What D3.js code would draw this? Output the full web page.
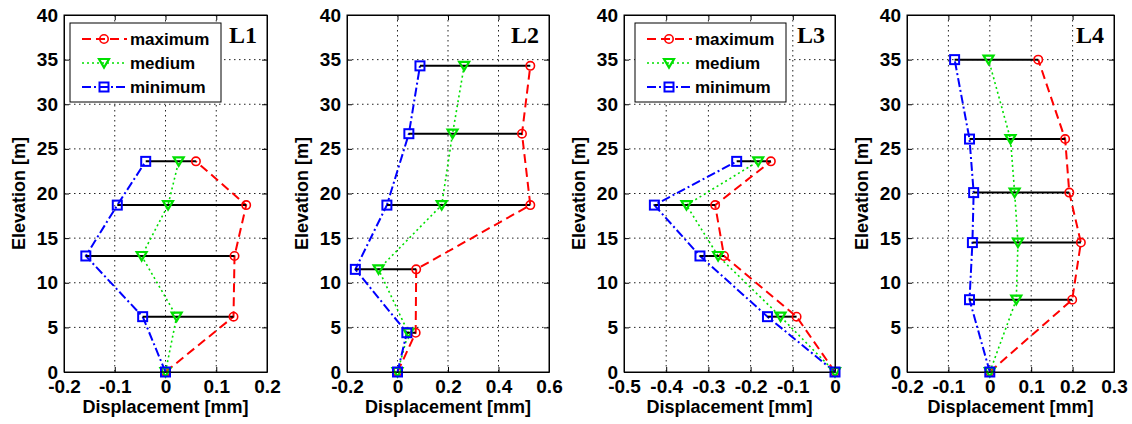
<!DOCTYPE html>
<html>
<head>
<meta charset="utf-8">
<script src="https://cdn.jsdelivr.net/npm/d3@7"></script>
<style>
  body { margin: 0; background: #fff; }
  text { font-family: "Liberation Sans", Arial, sans-serif; font-weight: bold; fill: #000; }
</style>
</head>
<body>
<div id="chart"></div>
<script>
// values (displacement in mm, elevation in m)
var l1Elev = [0, 6.2, 13.0, 18.7, 23.6];
var l1Max  = [0, 0.134, 0.136, 0.159, 0.060];
var l1Med  = [0, 0.022, -0.047, 0.005, 0.026];
var l1Min  = [0, -0.045, -0.157, -0.095, -0.039];

var l2Elev = [0, 4.4, 11.5, 18.7, 26.7, 34.3];
var l2Max  = [0, 0.072, 0.074, 0.526, 0.493, 0.526];
var l2Med  = [0, 0.043, -0.075, 0.175, 0.218, 0.264];
var l2Min  = [0, 0.037, -0.167, -0.042, 0.045, 0.089];

var l3Elev = [0, 6.2, 13.0, 18.7, 23.6];
var l3Max  = [0, -0.091, -0.263, -0.284, -0.152];
var l3Med  = [0, -0.129, -0.277, -0.352, -0.182];
var l3Min  = [0, -0.160, -0.320, -0.428, -0.233];

var l4Elev = [0, 8.1, 14.5, 20.1, 26.1, 35.0];
var l4Max  = [0, 0.199, 0.220, 0.192, 0.182, 0.117];
var l4Med  = [0, 0.064, 0.068, 0.060, 0.050, -0.003];
var l4Min  = [0, -0.049, -0.042, -0.039, -0.049, -0.085];

var yTicks = [0, 5, 10, 15, 20, 25, 30, 35, 40];
var l1XTicks = [-0.2, -0.1, 0, 0.1, 0.2];
var l2XTicks = [-0.2, 0, 0.2, 0.4, 0.6];
var l3XTicks = [-0.5, -0.4, -0.3, -0.2, -0.1, 0];
var l4XTicks = [-0.2, -0.1, 0, 0.1, 0.2, 0.3];

var seriesNames = ["maximum", "medium", "minimum"];

//basic formatting variables
var svgWidth = 1132;
var svgHeight = 424;
var plotTop = 15;
var plotBottom = 372;

var styles = [
  {color: "#ff0000", dash: "9,5", width: 2, marker: "circle"},
  {color: "#00e000", dash: "2,3", width: 1.6, marker: "triangle"},
  {color: "#0000ff", dash: "9,3,2,3", width: 2, marker: "square"}
];

var panels = [
  {name: "L1", elev: l1Elev, vals: [l1Max, l1Med, l1Min], ticks: l1XTicks, left: 64, right: 267, legend: 70},
  {name: "L2", elev: l2Elev, vals: [l2Max, l2Med, l2Min], ticks: l2XTicks, left: 347, right: 549, legend: null},
  {name: "L3", elev: l3Elev, vals: [l3Max, l3Med, l3Min], ticks: l3XTicks, left: 624, right: 835, legend: 635},
  {name: "L4", elev: l4Elev, vals: [l4Max, l4Med, l4Min], ticks: l4XTicks, left: 907, right: 1114, legend: null}
];

var svg = d3.select("#chart")
  .append("svg")
  .attr("width", svgWidth)
  .attr("height", svgHeight);

var fmt = d => String(+d.toFixed(1));

function drawMarker(g, type, x, y, color) {
  if (type === "circle") {
    g.append("circle").attr("cx", x).attr("cy", y).attr("r", 4.2)
      .attr("fill", "none").attr("stroke", color).attr("stroke-width", 1.6);
  } else if (type === "square") {
    g.append("rect").attr("x", x - 4.5).attr("y", y - 4.5).attr("width", 9).attr("height", 9)
      .attr("fill", "none").attr("stroke", color).attr("stroke-width", 2);
  } else {
    g.append("path").attr("d", `M${x - 5},${y - 4} L${x + 5},${y - 4} L${x},${y + 4.5} Z`)
      .attr("fill", "none").attr("stroke", color).attr("stroke-width", 2.2);
  }
}

panels.forEach(function(p) {
  var x = d3.scaleLinear()
    .domain([p.ticks[0], p.ticks[p.ticks.length - 1]])
    .range([p.left, p.right]);
  var y = d3.scaleLinear()
    .domain([0, 40])
    .range([plotBottom, plotTop]);

  var g = svg.append("g");

  // grid
  g.selectAll(".gx").data(p.ticks.slice(1, -1)).enter().append("line")
    .attr("x1", d => x(d)).attr("x2", d => x(d))
    .attr("y1", plotTop).attr("y2", plotBottom)
    .attr("stroke", "#222").attr("stroke-width", 1).attr("stroke-dasharray", "1.5,3.5");
  g.selectAll(".gy").data(yTicks.slice(1, -1)).enter().append("line")
    .attr("x1", p.left).attr("x2", p.right)
    .attr("y1", d => y(d)).attr("y2", d => y(d))
    .attr("stroke", "#222").attr("stroke-width", 1).attr("stroke-dasharray", "1.5,3.5");

  // axes with inward ticks
  g.append("g").attr("transform", `translate(0,${plotBottom})`)
    .call(d3.axisBottom(x).tickValues(p.ticks).tickFormat(fmt).tickSizeInner(-5).tickSizeOuter(0).tickPadding(8));
  g.append("g").attr("transform", `translate(${p.left},0)`)
    .call(d3.axisLeft(y).tickValues(yTicks).tickFormat(d3.format("d")).tickSizeInner(-5).tickSizeOuter(0).tickPadding(6));
  g.append("g").attr("transform", `translate(0,${plotTop})`)
    .call(d3.axisTop(x).tickValues(p.ticks).tickFormat("").tickSizeInner(-5).tickSizeOuter(0));
  g.append("g").attr("transform", `translate(${p.right},0)`)
    .call(d3.axisRight(y).tickValues(yTicks).tickFormat("").tickSizeInner(-5).tickSizeOuter(0));
  g.selectAll(".domain, .tick line").attr("stroke", "#000");
  g.selectAll(".tick text").attr("font-size", 19).attr("font-family", "Liberation Sans, Arial").attr("font-weight", "bold");

  // series lines
  p.vals.forEach(function(vals, i) {
    var s = styles[i];
    var line = d3.line().x((d, j) => x(d)).y((d, j) => y(p.elev[j]));
    g.append("path").datum(vals)
      .attr("d", line)
      .attr("fill", "none")
      .attr("stroke", s.color)
      .attr("stroke-width", s.width)
      .attr("stroke-dasharray", s.dash);
  });

  // black bars from minimum to maximum
  p.elev.forEach(function(e, j) {
    if (j === 0) return;
    g.append("line")
      .attr("x1", x(p.vals[2][j])).attr("x2", x(p.vals[0][j]))
      .attr("y1", y(e)).attr("y2", y(e))
      .attr("stroke", "#000").attr("stroke-width", 2);
  });

  // markers
  p.vals.forEach(function(vals, i) {
    vals.forEach(function(v, j) {
      drawMarker(g, styles[i].marker, x(v), y(p.elev[j]), styles[i].color);
    });
  });

  // frame
  g.append("rect").attr("x", p.left).attr("y", plotTop)
    .attr("width", p.right - p.left).attr("height", plotBottom - plotTop)
    .attr("fill", "none").attr("stroke", "#000").attr("stroke-width", 1);

  // panel label
  g.append("text")
    .attr("x", p.right - 10).attr("y", 43)
    .attr("text-anchor", "end")
    .style("font-family", "'Liberation Serif', 'Times New Roman', serif")
    .style("font-size", "24px")
    .text(p.name);

  // legend
  if (p.legend !== null) {
    var lx = p.legend;
    g.append("rect").attr("x", lx).attr("y", 23).attr("width", 151).attr("height", 79)
      .attr("fill", "#fff").attr("stroke", "#000").attr("stroke-width", 1);
    seriesNames.forEach(function(name, i) {
      var ly = 39 + i * 24;
      var s = styles[i];
      g.append("line").attr("x1", lx + 12).attr("x2", lx + 57).attr("y1", ly).attr("y2", ly)
        .attr("stroke", s.color).attr("stroke-width", s.width).attr("stroke-dasharray", s.dash);
      drawMarker(g, s.marker, lx + 34, ly, s.color);
      g.append("text").attr("x", lx + 60).attr("y", ly).attr("dy", "0.35em")
        .style("font-size", "17px")
        .text(name);
    });
  }

  // axis labels
  g.append("text")
    .attr("x", (p.left + p.right) / 2).attr("y", 413)
    .attr("text-anchor", "middle")
    .style("font-size", "18px")
    .text("Displacement [mm]");

  g.append("text")
    .attr("transform", `translate(${p.left - 39},${(plotTop + plotBottom) / 2}) rotate(-90)`)
    .attr("text-anchor", "middle")
    .style("font-size", "18px")
    .text("Elevation [m]");
});
</script>
</body>
</html>
